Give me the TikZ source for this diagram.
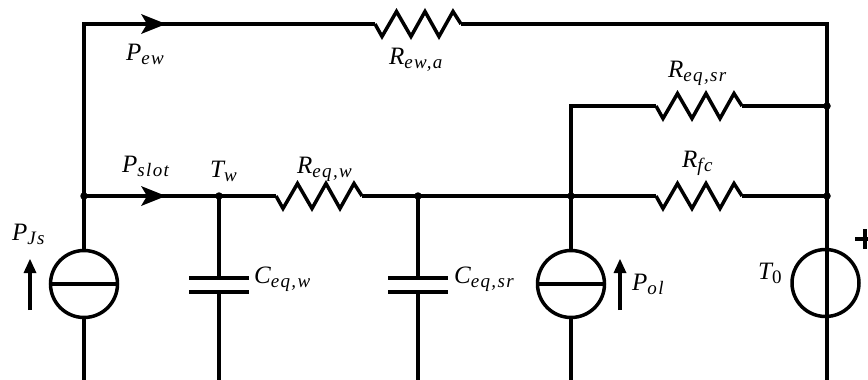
\documentclass[tikz,border=0pt]{standalone}
\usepackage{fontspec}
\setmainfont{Liberation Serif}
\newfontfamily\subfont[LetterSpace=7]{Liberation Serif}
\newcommand{\lab}[2]{{\fontsize{25}{27}\selectfont\itshape #1\raisebox{-4.5pt}{\subfont\fontsize{19}{20}\selectfont\itshape #2}}}
\tikzset{
  wire/.style={line width=3.5pt,line join=miter,black},
  srccirc/.style={circle,draw,line width=3.5pt,minimum size=67pt,inner sep=0pt,fill=none},
  dotj/.style={circle,fill=black,inner sep=0pt,minimum size=7.5pt},
  flowhead/.style={fill=black,draw=none},
  txt/.style={anchor=base west,inner sep=0pt},
  res/.pic={\draw[wire,line join=miter,miter limit=4] (0,0) -- (7,12.5) -- (21.5,-12.5) -- (36,12.5) -- (50,-12.5) -- (64,12.5) -- (78,-12.5) -- (86,0);}
}
\begin{document}
\begin{tikzpicture}[x=1pt,y=-1pt]
\useasboundingbox (0,0) rectangle (868,380);
% junctions and free ends
\coordinate (tl) at (84,24);
\coordinate (tr) at (827,24);
\node[dotj] (jl) at (84,196) {};
\node[dotj] (jw) at (219,196) {};
\node[dotj] (jc) at (418,196) {};
\node[dotj] (jo) at (571,196) {};
\node[dotj] (jr) at (827,196) {};
\node[dotj] (jt) at (827,106) {};
\coordinate (cor) at (571,106);
\coordinate (bl) at (84,380);
\coordinate (bw) at (219,380);
\coordinate (bc) at (418,380);
\coordinate (bo) at (571,380);
\coordinate (br) at (827,380);
% sources
\node[srccirc] (js) at (84,284) {};
\node[srccirc] (ol) at (571,284) {};
\node[srccirc] (t0) at (825.5,283) {};
% resistor terminals
\coordinate (r1a) at (375,24); \coordinate (r1b) at (461,24);
\coordinate (r2a) at (656,106); \coordinate (r2b) at (742,106);
\coordinate (r3a) at (656,196); \coordinate (r3b) at (742,196);
\coordinate (r4a) at (276,196); \coordinate (r4b) at (362,196);
\pic at (r1a) {res};
\pic at (r2a) {res};
\pic at (r3a) {res};
\pic at (r4a) {res};
% capacitor plates
\coordinate (c1t) at (219,278); \coordinate (c1b) at (219,292);
\coordinate (c2t) at (418,278); \coordinate (c2b) at (418,292);
\draw[wire] (189,278) -- (249,278) (189,292) -- (249,292);
\draw[wire] (388,278) -- (448,278) (388,292) -- (448,292);
% wires
\draw[wire] (js.north) -- (jl.center) -- (tl) -- (r1a);
\draw[wire] (r1b) -- (tr) -- (jt.center) -- (jr.center) -- (br);
\draw[wire] (jl.center) -- (jw.center) -- (r4a);
\draw[wire] (r4b) -- (jc.center) -- (jo.center) -- (r3a);
\draw[wire] (r3b) -- (jr.center);
\draw[wire] (ol.north) -- (jo.center) -- (cor) -- (r2a);
\draw[wire] (r2b) -- (jt.center);
\draw[wire] (jw.center) -- (c1t);
\draw[wire] (c1b) -- (bw);
\draw[wire] (jc.center) -- (c2t);
\draw[wire] (c2b) -- (bc);
\draw[wire] (js.south) -- (bl);
\draw[wire] (ol.south) -- (bo);
\draw[wire] (js.west) -- (js.east);
\draw[wire] (ol.west) -- (ol.east);
% flow heads
\fill[flowhead] (166,24) -- (141,14) -- (147,24) -- (141,34) -- cycle;
\fill[flowhead] (166,196) -- (141,186) -- (147,196) -- (141,206) -- cycle;
% small arrows
\coordinate (a1b) at (30,310); \coordinate (a1t) at (30,272);
\coordinate (a2b) at (620,310); \coordinate (a2t) at (620,272);
\draw[wire,line width=3.8pt] (a1b) -- (a1t);
\fill (30,259) -- (23.5,273) -- (36.5,273) -- cycle;
\draw[wire,line width=3.8pt] (a2b) -- (a2t);
\fill (620,259) -- (613.5,273) -- (626.5,273) -- cycle;
% plus sign (clipped by the edge)
\draw[line width=4.2pt] (855,239) -- (872,239) (865,229) -- (865,249);
% labels
\node[txt] (lew) at (126,60) {\lab{P}{ew}};
\node[txt] (lrea) at (389,64) {\lab{R}{ew,a}};
\node[txt] (lrsr) at (668,77) {\lab{R}{eq,sr}};
\node[txt] (lrfc) at (682,167) {\lab{R}{fc}};
\node[txt] (lrw) at (297,173) {\lab{R}{eq,w}};
\node[txt] (lps) at (122,172) {\lab{P}{slot}};
\node[txt] (ltw) at (210,177) {\lab{T}{w}};
\node[txt] (ljs) at (12,240) {\lab{P}{Js}};
\node[txt] (lc1) at (254,283) {\lab{C}{eq,w}};
\node[txt] (lc2) at (454,283) {\lab{C}{eq,sr}};
\node[txt] (lpo) at (632,290) {\lab{P}{ol}};
\node[txt] (lt0) at (758,279) {\lab{T}{\upshape 0}};
\end{tikzpicture}
\end{document}
